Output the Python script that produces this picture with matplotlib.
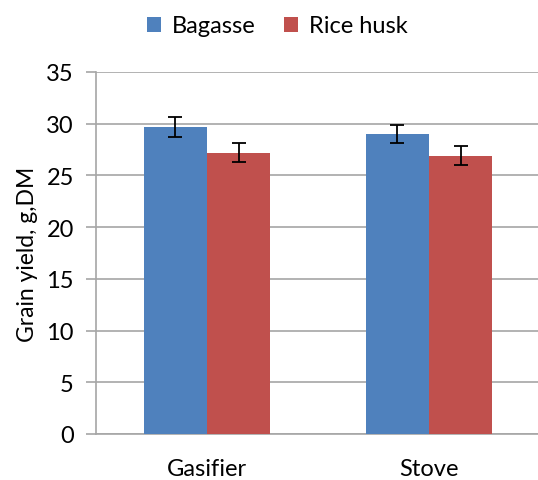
import matplotlib.pyplot as plt
import numpy as np

plt.rcParams['font.family'] = ['Lato', 'DejaVu Sans']

categories = ['Gasifier', 'Stove']
bagasse = [29.7, 29.0]
bagasse_err = [0.95, 0.9]
rice_husk = [27.2, 26.9]
rice_husk_err = [0.9, 0.9]

blue = '#4F81BD'
red = '#C0504D'
grid_gray = '#A6A6A6'

fig = plt.figure(figsize=(5.38, 4.81), dpi=100)
ax = fig.add_axes([96 / 538, 1 - 435 / 481, 442 / 538, (435 - 73) / 481])

x = np.arange(len(categories))
w = 0.284
err_kw = dict(ecolor='black', elinewidth=1.3, capsize=5, capthick=1.3)
ax.bar(x - w / 2, bagasse, w, color=blue, yerr=bagasse_err, error_kw=err_kw,
       label='Bagasse', zorder=3)
ax.bar(x + w / 2, rice_husk, w, color=red, yerr=rice_husk_err, error_kw=err_kw,
       label='Rice husk', zorder=3)

ax.set_xlim(-0.5, 1.491)
ax.set_ylim(0, 35)
ax.set_yticks(np.arange(0, 36, 5))
ax.set_xticks(x)
ax.set_xticklabels(categories)
ax.grid(axis='y', color=grid_gray, linewidth=1.2, zorder=0)
ax.set_axisbelow(True)

for s in ['top', 'right']:
    ax.spines[s].set_visible(False)
for s in ['left', 'bottom']:
    ax.spines[s].set_color(grid_gray)
    ax.spines[s].set_linewidth(1.2)
ax.tick_params(axis='y', length=7, color=grid_gray, width=1.2, labelsize=17, pad=9)
ax.tick_params(axis='x', length=0, labelsize=17, pad=17)
ax.set_ylabel('Grain yield, g,DM', fontsize=16.5, labelpad=6)

fig.legend(loc='upper center', bbox_to_anchor=(0.515, 1.01), ncol=2, frameon=False,
           fontsize=17, handlelength=0.6, handleheight=0.6, columnspacing=1.2,
           handletextpad=0.45)

fig.savefig('out.png', dpi=100)
